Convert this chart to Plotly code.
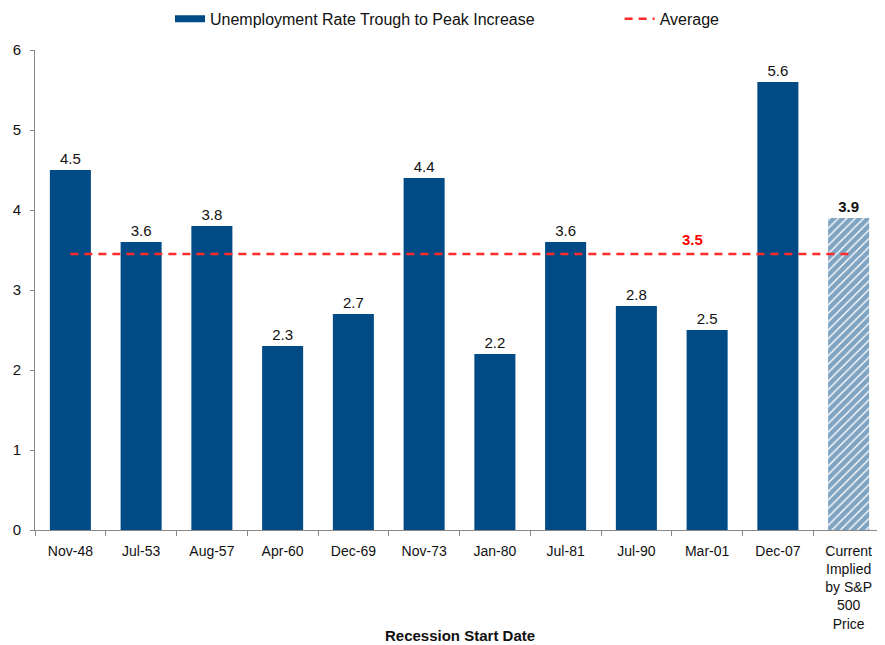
import plotly.graph_objects as go

categories = ["Nov-48", "Jul-53", "Aug-57", "Apr-60", "Dec-69", "Nov-73", "Jan-80",
              "Jul-81", "Jul-90", "Mar-01", "Dec-07",
              "Current<br>Implied<br>by S&P<br>500<br>Price"]
values = [4.5, 3.6, 3.8, 2.3, 2.7, 4.4, 2.2, 3.6, 2.8, 2.5, 5.6, 3.9]
average = 3.45
avg_label = "3.5"
y_ticks = [0, 1, 2, 3, 4, 5, 6]

BLUE = "#004a86"
FONT = "Liberation Sans, Arial, sans-serif"

fig = go.Figure()

fig.add_trace(go.Bar(
    x=categories[:-1], y=values[:-1],
    name="Unemployment Rate Trough to Peak Increase",
    showlegend=False,
    marker=dict(color=BLUE, line=dict(width=0)),
    text=[f"{v:.1f}" for v in values[:-1]],
    textposition="outside",
    textfont=dict(color="#111111", size=15, family=FONT),
    cliponaxis=False,
))
fig.add_trace(go.Bar(
    x=categories[-1:], y=values[-1:],
    showlegend=False,
    marker=dict(color="white", line=dict(width=0),
                pattern=dict(shape="/", fgcolor=BLUE, bgcolor="white",
                             size=6, solidity=0.78)),
    text=[f"<b>{values[-1]:.1f}</b>"],
    textposition="outside",
    textfont=dict(color="#111111", size=15, family=FONT),
    cliponaxis=False,
))
# legend entry for the bars (wide rectangle swatch)
fig.add_trace(go.Scatter(
    x=[None], y=[None], mode="lines",
    name="Unemployment Rate Trough to Peak Increase" + "\u00a0" * 18,
    line=dict(color=BLUE, width=7),
))
fig.add_trace(go.Scatter(
    x=categories, y=[average] * len(categories),
    mode="lines", name="Average",
    line=dict(color="#ff2a2a", width=2.5, dash="8px,6px"),
))

fig.add_annotation(x=9, y=average, xref="x", yref="y", text=f"<b>{avg_label}</b>",
                   showarrow=False, yshift=15, xshift=-15,
                   font=dict(color="#ff0000", size=15, family=FONT))
fig.add_annotation(x=0.5, y=-105 / 480, xref="paper", yref="paper",
                   text="<b>Recession Start Date</b>", showarrow=False,
                   xanchor="center", yanchor="middle",
                   font=dict(color="#111111", size=15, family=FONT))

fig.update_layout(
    width=877, height=637,
    margin=dict(l=27, r=1, t=42, b=115, autoexpand=False),
    paper_bgcolor="white", plot_bgcolor="white",
    bargap=0.42, barmode="overlay",
    font=dict(family=FONT, size=14, color="#111111"),
    legend=dict(orientation="h", x=162 / 877, xanchor="left", xref="container",
                y=0.983, yanchor="middle", yref="container",
                font=dict(size=16), itemwidth=30, traceorder="normal"),
    showlegend=True,
)
fig.update_xaxes(
    type="category", categoryorder="array", categoryarray=categories,
    showline=True, linecolor="#888888", linewidth=1,
    ticks="outside", tickson="boundaries", tickcolor="#888888", ticklen=5,
    tickangle=0, showgrid=False, automargin=False,
    tickfont=dict(size=14), ticklabelstandoff=8,
    range=[-0.5, 11.5],
)
fig.update_yaxes(
    range=[0, 6], tickvals=y_ticks, showgrid=False, zeroline=False,
    showline=True, linecolor="#888888", linewidth=1,
    ticks="outside", tickcolor="#888888", ticklen=4,
    tickfont=dict(size=15), automargin=False, ticklabelstandoff=6,
)

fig.write_html("out.html")
